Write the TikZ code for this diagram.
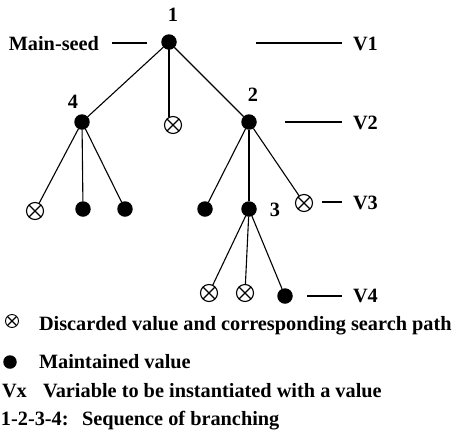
\documentclass[tikz,border=0pt]{standalone}
\usepackage{fontspec}
\setmainfont{Liberation Serif}
\begin{document}
\begin{tikzpicture}[x=1pt,y=-1pt,
  every node/.style={font=\fontsize{20.3}{24}\selectfont\bfseries, inner sep=0pt, outer sep=0pt},
  kept/.style={circle, fill=black, minimum size=15.5pt},
  cut/.style={circle, draw=black, line width=1.1pt, fill=white, minimum size=17pt,
    path picture={\draw[line width=1.1pt]
      (path picture bounding box.south west) -- (path picture bounding box.north east)
      (path picture bounding box.north west) -- (path picture bounding box.south east);}},
  link/.style={line width=1.1pt},
  txt/.style={anchor=base west},
]
\useasboundingbox (0,0) rectangle (453,432);

% tree nodes
\node[kept] (n1) at (169,42) {};
\node[kept] (n4) at (82,122) {};
\node[cut]  (c1) at (173,125) {};
\node[kept] (n2) at (249,122) {};
\node[cut]  (a1) at (35,211) {};
\node[kept] (a2) at (83,209) {};
\node[kept] (a3) at (125,209) {};
\node[kept] (b1) at (205,209) {};
\node[kept] (n3) at (249,209) {};
\node[cut]  (b3) at (304,203) {};
\node[cut]  (d1) at (209,293) {};
\node[cut]  (d2) at (245,293) {};
\node[kept] (d3) at (285,296) {};

% branches
\draw[link] (n1) -- (n4);
\draw[link] (n1.center) -- (n1.center |- c1.north);
\draw[link] (n1) -- (n2);
\draw[link] (n4) -- (a1);
\draw[link] (n4) -- (a2);
\draw[link] (n4) -- (a3);
\draw[link] (n2) -- (b1);
\draw[link] (n2) -- (n3);
\draw[link] (n2) -- (b3);
\draw[link] (n3) -- (d1);
\draw[link] (n3) -- (d2);
\draw[link] (n3) -- (d3);

% branching order
\node[anchor=base] (l1) at (173,21) {1};
\node[anchor=base] (l2) at (253,101) {2};
\node[anchor=base] (l4) at (73,108) {4};
\node[anchor=base] (l3) at (275,216) {3};

% seed label
\node[anchor=base east] (ms) at (99,50) {Main-seed};
\coordinate (ms1) at (112,43);
\coordinate (ms2) at (147,43);
\draw[link] (ms1) -- (ms2);

% variable levels
\node[txt] (v1) at (353,50) {V1};
\node[txt] (v2) at (353,129) {V2};
\node[txt] (v3) at (353,209) {V3};
\node[txt] (v4) at (353,302) {V4};
\coordinate (v1a) at (256,43);  \coordinate (v1b) at (342,43);
\coordinate (v2a) at (285,122); \coordinate (v2b) at (342,122);
\coordinate (v3a) at (322,202); \coordinate (v3b) at (342,202);
\coordinate (v4a) at (307,296); \coordinate (v4b) at (342,296);
\draw[link] (v1a) -- (v1b);
\draw[link] (v2a) -- (v2b);
\draw[link] (v3a) -- (v3b);
\draw[link] (v4a) -- (v4b);

% legend
\node[cut, minimum size=13pt, line width=0.9pt] (lgc) at (12,321) {};
\node[txt] (lt1) at (39,330) {Discarded value and corresponding search path};
\node[kept, minimum size=13.5pt] (lgk) at (10,362) {};
\node[txt] (lt2) at (39,368) {Maintained value};
\node[txt] (lt3a) at (2,397) {Vx};
\node[txt] (lt3b) at (43,397) {Variable to be instantiated with a value};
\node[txt] (lt4a) at (1,425) {1-2-3-4:};
\node[txt] (lt4b) at (82,425) {Sequence of branching};
\end{tikzpicture}
\end{document}
